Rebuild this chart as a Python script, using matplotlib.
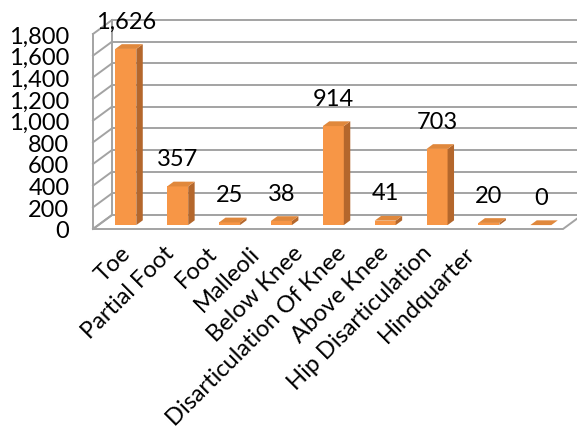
import numpy as np
import matplotlib
matplotlib.use("Agg")
import matplotlib.pyplot as plt
from matplotlib.patches import Polygon

categories = ["Toe", "Partial Foot", "Foot", "Malleoli", "Below Knee",
              "Disarticulation Of Knee", "Above Knee", "Hip Disarticulation",
              "Hindquarter"]
counts = [1626, 357, 25, 38, 914, 41, 703, 20, 0]
y_ticks = [0, 200, 400, 600, 800, 1000, 1200, 1400, 1600, 1800]

# oblique 3D look: full depth of the floor in data units
DX = 0.366
DY = 129.0
# bar sits between these fractions of the depth
F0, F1 = 0.28, 0.62
BAR_W = 0.405
XMIN, XMAX = -0.53, 8.53
LABEL_PITCH = 0.83
FS = 17

plt.rcParams["font.family"] = ["Lato", "DejaVu Sans"]

fig = plt.figure(figsize=(5.77, 4.39), dpi=100)
ax = fig.add_axes([93 / 577, (439 - 230) / 439, (563 - 93) / 577, 195 / 439])
ax.set_xlim(XMIN, XMAX)
ax.set_ylim(0, y_ticks[-1])
for s in ax.spines.values():
    s.set_visible(False)
ax.patch.set_alpha(0)

grid_c = "#a3a3a3"
top = y_ticks[-1]

# floor
floor = Polygon([(XMIN, 0), (XMAX, 0), (XMAX + DX, DY), (XMIN + DX, DY)],
                closed=True, facecolor="white", edgecolor=grid_c, lw=1.4,
                clip_on=False, zorder=1)
ax.add_patch(floor)

# back wall gridlines and side wall diagonals
for v in y_ticks:
    ax.plot([XMIN + DX, XMAX + 2 * DX], [v + DY, v + DY], color=grid_c,
            lw=1.4, clip_on=False, zorder=1)
    ax.plot([XMIN, XMIN + DX], [v, v + DY], color=grid_c, lw=1.4,
            clip_on=False, zorder=1)
ax.plot([XMIN, XMIN], [0, top], color=grid_c, lw=1.4, clip_on=False, zorder=1)
ax.plot([XMIN + DX, XMIN + DX], [DY, top + DY], color=grid_c, lw=1.4,
        clip_on=False, zorder=1)

# bars: front faces
x = np.arange(len(categories))
xf = x + F0 * DX
ax.bar(xf, counts, width=BAR_W, bottom=F0 * DY, color="#f79646",
       edgecolor="none", zorder=3)

# side and top faces
d = F1 - F0
for xi, v in zip(xf, counts):
    x0, x1 = xi - BAR_W / 2, xi + BAR_W / 2
    y0, y1 = F0 * DY, F0 * DY + v
    side = Polygon([(x1, y0), (x1 + d * DX, y0 + d * DY),
                    (x1 + d * DX, y1 + d * DY), (x1, y1)],
                   closed=True, facecolor="#b4672c", edgecolor="none",
                   clip_on=False, zorder=3)
    topf = Polygon([(x0, y1), (x1, y1), (x1 + d * DX, y1 + d * DY),
                    (x0 + d * DX, y1 + d * DY)],
                   closed=True, facecolor="#e0883c", edgecolor="none",
                   clip_on=False, zorder=3)
    ax.add_patch(side)
    ax.add_patch(topf)
    ax.annotate(f"{v:,}", (xi, y1), xytext=(0, 20), textcoords="offset points",
                ha="center", va="center", fontsize=FS, zorder=4)

ax.set_yticks(y_ticks)
ax.set_yticklabels([f"{t:,}" for t in y_ticks])
ax.tick_params(axis="y", length=0, pad=17, labelsize=FS)
ax.set_xticks([])

for i, name in enumerate(categories):
    ax.annotate(name, (i * LABEL_PITCH - 0.2, 0), xytext=(7, -9),
                textcoords="offset points", rotation=45, rotation_mode="anchor",
                ha="right", va="top", fontsize=FS, annotation_clip=False)

fig.savefig("out.png", dpi=100)
